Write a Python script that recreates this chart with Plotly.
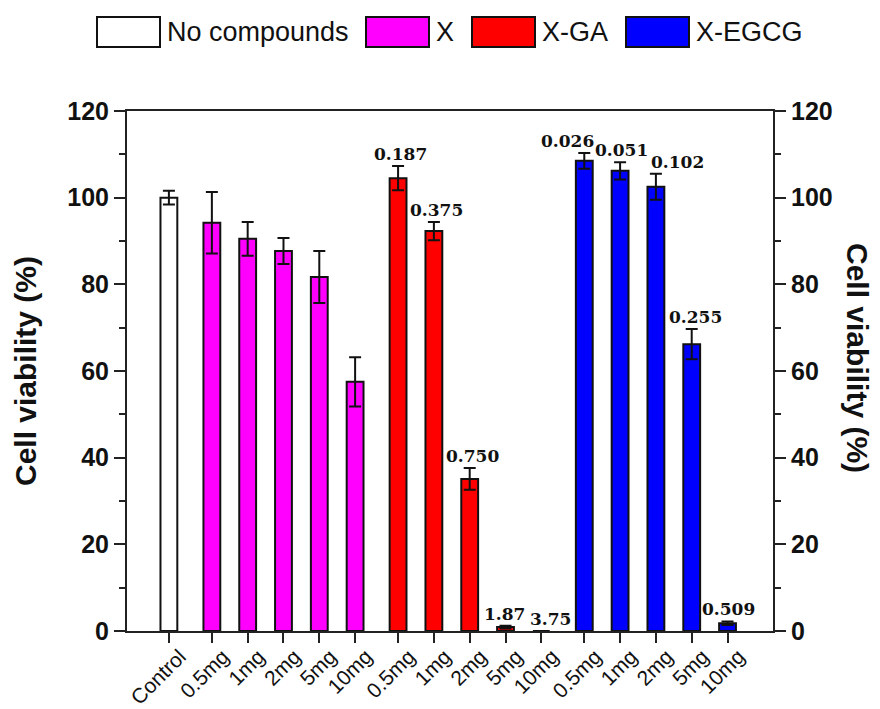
import plotly.graph_objects as go

# ---------------- data ----------------
groups = ["No compounds", "X", "X-GA", "X-EGCG"]
colors = ["#FFFFFF", "#FF00FF", "#FF0000", "#0000FF"]

ctrl_labels = ["Control"]
ctrl_values = [100.0]
ctrl_err = [1.6]

x_labels = ["0.5mg", "1mg", "2mg", "5mg", "10mg"]
x_values = [94.2, 90.5, 87.7, 81.7, 57.5]
x_err = [7.1, 3.9, 3.0, 6.0, 5.7]

ga_labels = ["0.5mg", "1mg", "2mg", "5mg", "10mg"]
ga_values = [104.5, 92.3, 35.1, 0.9, 0.0]
ga_err = [2.8, 2.1, 2.5, 0.3, 0.0]
ga_text = ["0.187", "0.375", "0.750", "1.87", "3.75"]

egcg_labels = ["0.5mg", "1mg", "2mg", "5mg", "10mg"]
egcg_values = [108.5, 106.2, 102.5, 66.2, 1.8]
egcg_err = [1.8, 2.0, 3.0, 3.5, 0.4]
egcg_text = ["0.026", "0.051", "0.102", "0.255", "0.509"]

y_title = "Cell viability (%)"

# ---------------- style ----------------
GROUP_GAP = 0.2
BAR_W = 0.47
ga_xshift = [2, 3, 3, -1, 9]
egcg_xshift = [-17, 1, 22, 4, 1]
LINE = "#222222"
SANS = "Liberation Sans, Arial, sans-serif"
SERIF = "DejaVu Serif, serif"

series = [
    (ctrl_labels, ctrl_values, ctrl_err),
    (x_labels, x_values, x_err),
    (ga_labels, ga_values, ga_err),
    (egcg_labels, egcg_values, egcg_err),
]

fig = go.Figure()
tickvals, ticktext = [], []
positions = []
idx = 0
for g, (labs, vals, errs) in enumerate(series):
    xs = []
    for lab in labs:
        xs.append(idx + GROUP_GAP * g)
        idx += 1
    positions.append(xs)
    tickvals += xs
    ticktext += labs
    fig.add_trace(go.Bar(
        x=xs, y=vals, width=BAR_W, name=groups[g],
        marker=dict(color=colors[g], line=dict(color="#111111", width=2)),
        error_y=dict(type="data", array=errs, visible=True,
                     color="#111111", thickness=2, width=6),
        showlegend=False,
    ))

# value labels above bars
annots = []
for g, texts, vals, errs, shifts in [
    (2, ga_text, ga_values, ga_err, ga_xshift),
    (3, egcg_text, egcg_values, egcg_err, egcg_xshift),
]:
    for xpos, t, v, e, s in zip(positions[g], texts, vals, errs, shifts):
        annots.append(dict(
            x=xpos, y=v + e, xref="x", yref="y", text=t, showarrow=False,
            yanchor="bottom", xanchor="center", xshift=s, yshift=0,
            font=dict(family=SERIF, size=17, color="#111111", weight="bold"),
        ))

# custom legend (boxes + labels) above plot
L, R, T, B = 127, 107, 111, 78
W, H = 880, 709
pw, ph = W - L - R, H - T - B
def px_x(p):
    return (p - L) / pw
def px_y(p):
    return (H - B - p) / ph

legend_box_left = [97, 366, 472, 626]
box_w, box_top, box_bot = 63, 17, 47
shapes = []
for g, bx in enumerate(legend_box_left):
    shapes.append(dict(type="rect", xref="paper", yref="paper",
                       x0=px_x(bx), x1=px_x(bx + box_w),
                       y0=px_y(box_bot), y1=px_y(box_top),
                       fillcolor=colors[g], line=dict(color="#111111", width=2)))
    annots.append(dict(x=px_x(bx + box_w + 5), y=px_y((box_top + box_bot) / 2),
                       xref="paper", yref="paper", text=groups[g], showarrow=False,
                       xanchor="left", yanchor="middle",
                       font=dict(family=SANS, size=27, color="#111111")))

# right-hand axis title, reading top to bottom
annots.append(dict(x=px_x(858), y=px_y(358), xref="paper", yref="paper",
                   text=y_title, showarrow=False, textangle=90,
                   xanchor="center", yanchor="middle",
                   font=dict(family=SANS, size=30, color="#111111", weight="bold")))

axis_common = dict(
    range=[0, 120], dtick=20, tick0=0, ticks="outside", ticklen=11, tickwidth=2,
    tickcolor=LINE, showline=True, linewidth=2, linecolor=LINE,
    showgrid=False, zeroline=False,
    minor=dict(dtick=10, ticks="outside", ticklen=6, tickwidth=2, tickcolor=LINE),
    tickfont=dict(family=SANS, size=25, color="#111111", weight="bold"),
)

fig.update_layout(
    width=W, height=H,
    margin=dict(l=L, r=R, t=T, b=B, autoexpand=False),
    paper_bgcolor="white", plot_bgcolor="white",
    barmode="overlay",
    xaxis=dict(
        range=[-1.17, 16.87], tickvals=tickvals, ticktext=ticktext,
        tickangle=-45, ticks="outside", ticklen=10, tickwidth=2, tickcolor=LINE,
        showline=True, linewidth=2, linecolor=LINE, mirror=True,
        showgrid=False, zeroline=False, automargin=False,
        ticklabelshift=11, ticklabelstandoff=-7,
        tickfont=dict(family=SANS, size=21, color="#111111"),
    ),
    yaxis=dict(**axis_common,
               title=dict(text=y_title, standoff=22,
                          font=dict(family=SANS, size=30, color="#111111", weight="bold"))),
    yaxis2=dict(**axis_common, overlaying="y", side="right"),
    annotations=annots,
    shapes=shapes,
)
fig.add_trace(go.Scatter(x=[None], y=[None], yaxis="y2", showlegend=False, hoverinfo="skip"))

fig.write_html("out.html")
